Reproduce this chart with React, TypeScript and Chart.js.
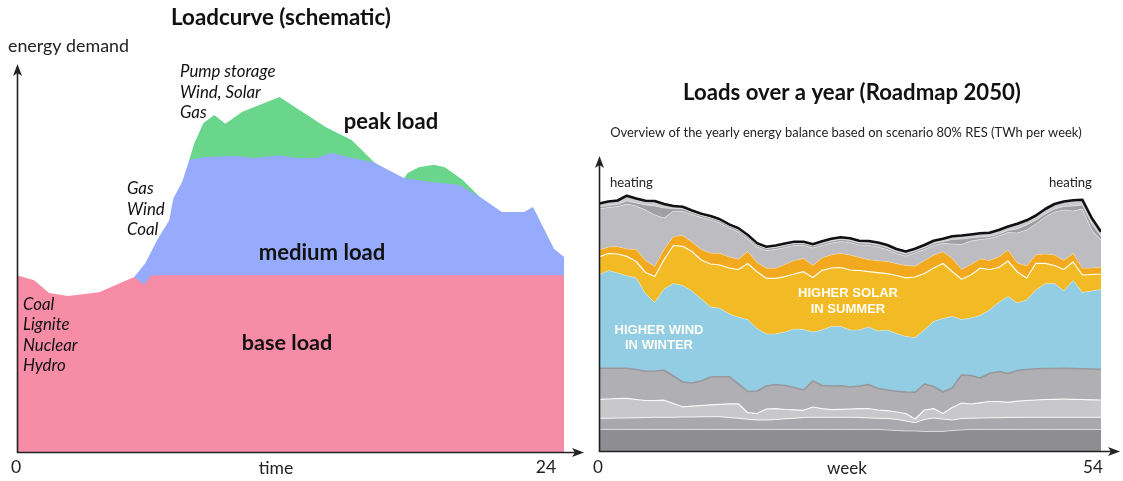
import React, { useEffect, useRef } from "react";
import { Chart, registerables } from "chart.js";

Chart.register(...registerables);

const FONT = "Lato, 'Open Sans', sans-serif";
const FONT_ARIAL = "'Liberation Sans', Arial, sans-serif";

// ---------------- Left chart: Loadcurve (schematic) ----------------
// x = hour of day, y = relative energy demand (0..100)
const BASE_HOURS = [0, 0.75, 1.41, 2.24, 3.6, 5.14, 5.58, 5.89, 24];
const BASE_LOAD = [45.7, 44.4, 41.1, 40.3, 41.3, 45.2, 43.2, 45.7, 45.7];

const MEDIUM_HOURS = [5.14, 5.63, 6.15, 6.68, 6.86, 7.25, 7.56, 8.31, 9.63, 10.42, 11.52, 12.26, 13.14, 13.8, 14.68, 15.65, 16.97, 18.11, 19.43, 20.4, 21.27, 22.24, 22.64, 23.56, 24];
const MEDIUM_LOAD = [45.2, 48.8, 54.8, 59.9, 65.6, 69.8, 75.5, 76.2, 76.5, 76.0, 76.7, 76.0, 76.0, 77.3, 76.0, 74.9, 70.8, 69.8, 69.0, 65.6, 62.0, 62.0, 63.3, 52.5, 50.4];

const PEAK_HOURS = [7.56, 7.78, 8.18, 8.66, 9.14, 9.89, 11.52, 13.54, 14.68, 15.74, 16.4, 16.97, 17.14, 17.63, 18.29, 18.77, 19.56, 20.4];
const PEAK_LOAD = [75.5, 79.8, 85.0, 87.1, 84.8, 87.9, 91.7, 84.0, 80.6, 74.5, 72.0, 70.6, 72.1, 73.6, 74.2, 73.6, 70.3, 65.4];

// ---------------- Right chart: Loads over a year ----------------
const WEEKS = [0, 1, 2, 3, 4, 5, 6, 7, 8, 9, 10, 11, 12, 13, 14, 15, 16, 17, 18, 19, 20, 21, 22, 23, 24, 25, 26, 27, 28, 29, 30, 31, 32, 33, 34, 35, 36, 37, 38, 39, 40, 41, 42, 43, 44, 45, 46, 47, 48, 49, 50, 51, 52, 53, 54];

// cumulative upper edge of each band (schematic units), from the bottom up
const BAND1_TOP = [21.5, 21.5, 21.5, 21.5, 21.5, 21.5, 21.5, 21.5, 21.5, 21.5, 21.5, 21.5, 21.5, 21.5, 21.5, 21.5, 21.5, 21.5, 21.5, 21.5, 21.5, 21.5, 21.5, 21.5, 21.5, 21.5, 21.5, 21.5, 21.5, 21.5, 21.5, 21, 20.5, 20, 20, 19.5, 19.5, 19.5, 20.5, 21, 21.5, 21.5, 21.5, 21.5, 21.5, 21.5, 21.5, 21.5, 21.5, 21.5, 21.5, 21.5, 21.5, 21.5, 21.5];
const BAND2_TOP = [32.7, 32.7, 33, 33, 33.2, 33.5, 33.7, 33.7, 33.7, 34, 34, 34.2, 34.3, 34.3, 33.5, 32.7, 31.7, 31, 31, 31.5, 32.2, 32.7, 33.5, 33.7, 33.7, 33.7, 33.7, 33.7, 33.5, 33, 32.7, 32.5, 31.7, 30, 28.3, 31.5, 33, 32, 31, 32.5, 32.7, 33, 33.2, 33.3, 33.5, 33.6, 33.7, 33.7, 33.7, 33.7, 33.7, 33.7, 33.7, 33.7, 33.7];
const BAND3_TOP = [51.7, 52, 52.5, 52.7, 51.5, 50.5, 50.5, 50.8, 47.5, 44.2, 44.8, 45.5, 46.2, 46.7, 47.2, 47.2, 38.3, 37.5, 42, 42.4, 41.5, 41.2, 40.7, 44, 42.3, 41.4, 41.7, 42, 42.4, 42.5, 41, 40.4, 39, 37.5, 32, 41, 42.4, 37.5, 43.5, 48, 47, 48.2, 49.5, 49.5, 48.7, 49.8, 50.5, 51, 51.5, 51.7, 52, 51.7, 51.5, 51.2, 51];
const BAND4_TOP = [82.7, 82.7, 82.7, 82.7, 81.5, 79.7, 80, 80.7, 75, 69, 68, 70, 74, 74.3, 74.3, 67, 59.5, 60, 65, 66.5, 65.5, 63.5, 61, 70, 65.5, 65, 65.3, 64, 65, 66.5, 62.5, 61, 59.7, 59, 58.7, 67, 64.5, 59, 63, 76, 75.5, 73, 77.5, 79.5, 77.5, 80.5, 81.5, 82.3, 82.5, 82.5, 82.7, 82.5, 82.2, 82, 81.7];
const WIND_TOP = [176, 180.5, 178, 175.2, 173, 157.5, 148.5, 162, 167.5, 165.5, 160, 152, 144, 142.7, 137, 133.7, 131.5, 122.5, 117, 117, 119, 122, 121.5, 119, 121, 124.5, 124.5, 121, 121, 124, 120, 121, 117.5, 114.5, 113.5, 121, 129.5, 132.5, 134.5, 131.5, 133, 135.5, 141, 148.5, 154.5, 148, 151, 161, 167.2, 167.5, 160, 170.5, 158.5, 160, 161.5];
const SOLAR_TOP = [194, 197.5, 197, 194.7, 189.5, 178.5, 174.5, 191.5, 205.5, 204.7, 199.5, 191, 187, 186, 183, 181.5, 187.5, 179.2, 172.7, 172.7, 174.3, 177, 179.3, 173.5, 180.7, 183, 183.5, 181, 180.5, 179.4, 178.4, 177.3, 175.5, 173.2, 174, 177.5, 183, 187.5, 179.5, 171.7, 176, 182.8, 181.5, 183.5, 190, 179, 173, 187.7, 187.7, 185.5, 181.5, 189.2, 176, 176.5, 177];
const SOLAR2_TOP = [200.5, 204, 204.3, 202, 201.5, 190.5, 184.5, 201.5, 214.5, 215.5, 209, 201.5, 197.7, 197.7, 194, 191.7, 199.5, 188.5, 182.7, 182.7, 186.5, 190.5, 192.5, 185.5, 193, 196.3, 197.5, 196, 193.5, 191.3, 190.3, 189.5, 187.3, 185.5, 184.7, 190.2, 195.7, 199.2, 192.5, 181.5, 186.5, 192, 190.5, 194, 201, 188, 185, 196.2, 197, 196, 190.5, 197.5, 182.7, 183, 183.7];
const BAND8_TOP = [242, 243.5, 244.5, 247, 245, 241, 236, 233, 240, 239.5, 236.5, 233.5, 231, 228, 223, 219, 212, 204, 200.5, 201.5, 203.5, 205.5, 205.5, 203, 205.5, 208, 209.5, 208.5, 206, 205.5, 204, 201.5, 197.5, 195, 198, 201.5, 205.5, 207.5, 207, 206.5, 210, 211.5, 212.5, 215, 218.5, 218, 221, 227, 234, 239, 241, 240, 242, 221, 211];
const BAND9_TOP = [244, 245.5, 246.5, 250, 248, 246, 245, 243, 242.5, 242, 238.5, 235.5, 233, 230, 225, 221, 214, 206, 202.5, 203.5, 205.5, 207.5, 207.5, 205, 207.5, 210, 211.5, 210.5, 208, 207.5, 206, 203.5, 199.5, 197, 200, 203.5, 207.5, 209.5, 211.5, 212, 213, 214, 214.5, 217, 220.5, 222, 226, 231, 237, 242, 244.5, 245, 246, 227, 215];
const TOTAL_LOAD = [247.5, 249.5, 250.5, 255.3, 252.5, 250.3, 250, 247, 245, 244.3, 240.5, 237.2, 235, 231.7, 226.5, 222.8, 216, 207.7, 204.3, 205.5, 207.5, 209.3, 209.3, 206.7, 209.7, 212.2, 213.7, 212.7, 210.2, 210, 208.5, 206, 202, 199.5, 202.2, 206, 210.2, 212.3, 214.8, 215.5, 216.5, 217.7, 218.2, 221, 224.5, 227.2, 230.7, 235.5, 242, 247, 249.5, 250.8, 251.2, 233, 219.3];

type Item = { text: string; x: number; y: number; align?: CanvasTextAlign };
type Group = { ref: string; width: number; weight: string; style: string; family: string; color: string; items: Item[] };

function fontStr(g: Group, size: number) {
  return `${g.style} ${g.weight} ${size}px ${g.family}`;
}

function drawGroups(ctx: CanvasRenderingContext2D, groups: Group[]) {
  for (const g of groups) {
    ctx.font = fontStr(g, 100);
    const w = ctx.measureText(g.ref).width;
    const size = (100 * g.width) / w;
    ctx.font = fontStr(g, size);
    ctx.fillStyle = g.color;
    ctx.textBaseline = "middle";
    for (const it of g.items) {
      ctx.textAlign = it.align || "left";
      ctx.fillText(it.text, it.x, it.y);
    }
  }
}

function arrowUp(ctx: CanvasRenderingContext2D, x: number, y: number) {
  ctx.beginPath();
  ctx.moveTo(x, y);
  ctx.lineTo(x - 4.5, y + 12);
  ctx.lineTo(x, y + 9);
  ctx.lineTo(x + 4.5, y + 12);
  ctx.closePath();
  ctx.fill();
}
function arrowRight(ctx: CanvasRenderingContext2D, x: number, y: number) {
  ctx.beginPath();
  ctx.moveTo(x, y);
  ctx.lineTo(x - 12, y - 4.5);
  ctx.lineTo(x - 9, y);
  ctx.lineTo(x - 12, y + 4.5);
  ctx.closePath();
  ctx.fill();
}

function pts(xs: number[], ys: number[]) {
  return xs.map((x, i) => ({ x, y: ys[i] }));
}

const leftDecor = {
  id: "leftDecor",
  afterDraw(chart: any) {
    const ctx: CanvasRenderingContext2D = chart.ctx;
    const a = chart.chartArea;
    ctx.save();
    ctx.strokeStyle = "#222";
    ctx.fillStyle = "#222";
    ctx.lineWidth = 1.6;
    ctx.beginPath();
    ctx.moveTo(a.left + 0.5, a.bottom + 1);
    ctx.lineTo(a.left + 0.5, 72);
    ctx.moveTo(a.left, a.bottom + 0.5);
    ctx.lineTo(575, a.bottom + 0.5);
    ctx.stroke();
    arrowUp(ctx, a.left + 0.5, 64);
    arrowRight(ctx, 584, a.bottom + 0.5);
    drawGroups(ctx, [
      { ref: "Loadcurve (schematic)", width: 220, weight: "bold", style: "normal", family: FONT, color: "#111", items: [{ text: "Loadcurve (schematic)", x: 281, y: 18, align: "center" }] },
      { ref: "energy demand", width: 121, weight: "normal", style: "normal", family: FONT, color: "#222", items: [{ text: "energy demand", x: 8, y: 46 }] },
      {
        ref: "Pump storage", width: 95.5, weight: "normal", style: "italic", family: FONT, color: "#111",
        items: [
          { text: "Pump storage", x: 180, y: 72 }, { text: "Wind, Solar", x: 180, y: 93 }, { text: "Gas", x: 180, y: 113 },
          { text: "Gas", x: 127, y: 189 }, { text: "Wind", x: 127, y: 210 }, { text: "Coal", x: 127, y: 230 },
          { text: "Coal", x: 23, y: 305 }, { text: "Lignite", x: 23, y: 325 }, { text: "Nuclear", x: 23, y: 346 }, { text: "Hydro", x: 23, y: 366 },
        ],
      },
      { ref: "peak load", width: 94.4, weight: "bold", style: "normal", family: FONT, color: "#111", items: [{ text: "peak load", x: 391, y: 122, align: "center" }] },
      { ref: "medium load", width: 126.7, weight: "bold", style: "normal", family: FONT, color: "#111", items: [{ text: "medium load", x: 322, y: 253, align: "center" }] },
      { ref: "base load", width: 90.7, weight: "bold", style: "normal", family: FONT, color: "#111", items: [{ text: "base load", x: 287, y: 343, align: "center" }] },
      {
        ref: "time", width: 34.5, weight: "normal", style: "normal", family: FONT, color: "#222",
        items: [{ text: "0", x: 16, y: 467, align: "center" }, { text: "time", x: 276, y: 468, align: "center" }, { text: "24", x: 546, y: 467, align: "center" }],
      },
    ]);
    ctx.restore();
  },
};

const rightDecor = {
  id: "rightDecor",
  afterDraw(chart: any) {
    const ctx: CanvasRenderingContext2D = chart.ctx;
    const a = chart.chartArea;
    ctx.save();
    ctx.strokeStyle = "#222";
    ctx.fillStyle = "#222";
    ctx.lineWidth = 1.6;
    ctx.beginPath();
    ctx.moveTo(a.left + 0.5, a.bottom + 1);
    ctx.lineTo(a.left + 0.5, 164);
    ctx.moveTo(a.left, a.bottom + 0.5);
    ctx.lineTo(521, a.bottom + 0.5);
    ctx.stroke();
    arrowUp(ctx, a.left + 0.5, 156);
    arrowRight(ctx, 530, a.bottom + 0.5);
    drawGroups(ctx, [
      { ref: "Loads over a year (Roadmap 2050)", width: 338, weight: "bold", style: "normal", family: FONT, color: "#111", items: [{ text: "Loads over a year (Roadmap 2050)", x: 262, y: 93, align: "center" }] },
      { ref: "Overview of the yearly energy balance based on scenario 80% RES (TWh per week)", width: 472, weight: "normal", style: "normal", family: FONT, color: "#222", items: [{ text: "Overview of the yearly energy balance based on scenario 80% RES (TWh per week)", x: 256, y: 133, align: "center" }] },
      { ref: "heating", width: 43, weight: "normal", style: "normal", family: FONT, color: "#222", items: [{ text: "heating", x: 20, y: 183 }, { text: "heating", x: 459, y: 183 }] },
      {
        ref: "week", width: 40, weight: "normal", style: "normal", family: FONT, color: "#222",
        items: [{ text: "0", x: 8, y: 467, align: "center" }, { text: "week", x: 257, y: 468, align: "center" }, { text: "54", x: 503, y: 467, align: "center" }],
      },
      {
        ref: "HIGHER SOLAR", width: 100, weight: "bold", style: "normal", family: FONT_ARIAL, color: "#fdfdf5",
        items: [
          { text: "HIGHER SOLAR", x: 258, y: 293, align: "center" }, { text: "IN SUMMER", x: 258, y: 309, align: "center" },
          { text: "HIGHER WIND", x: 69, y: 330, align: "center" }, { text: "IN WINTER", x: 69, y: 345, align: "center" },
        ],
      },
    ]);
    ctx.restore();
  },
};

function area(label: string, data: any[], bg: string, fill: any, border = "rgba(0,0,0,0)", bw = 0) {
  return {
    label, data, backgroundColor: bg, borderColor: border, borderWidth: bw, fill,
    pointRadius: 0, pointHoverRadius: 0, tension: 0, borderJoinStyle: "round" as const,
  };
}

export default function App() {
  const leftRef = useRef<HTMLCanvasElement>(null);
  const rightRef = useRef<HTMLCanvasElement>(null);

  useEffect(() => {
    const left = new Chart(leftRef.current!, {
      type: "line",
      data: {
        datasets: [
          area("base load", pts(BASE_HOURS, BASE_LOAD), "#f68ca5", "origin"),
          area("medium load", pts(MEDIUM_HOURS, MEDIUM_LOAD), "#97abfc", "origin"),
          area("peak load", pts(PEAK_HOURS, PEAK_LOAD), "#69d68c", "origin"),
        ] as any,
      },
      options: {
        responsive: false,
        animation: false,
        layout: { padding: { left: 17, right: 26, top: 65, bottom: 29 } },
        scales: {
          x: { type: "linear", min: 0, max: 24, display: false },
          y: { min: 0, max: 100, display: false },
        },
        plugins: { legend: { display: false }, tooltip: { enabled: false } },
      },
      plugins: [leftDecor],
    });

    const W = (ys: number[]) => pts(WEEKS, ys);
    const right = new Chart(rightRef.current!, {
      type: "line",
      data: {
        datasets: [
          area("band 1", W(BAND1_TOP), "#8e8e92", "origin", "rgba(255,255,255,0.55)", 1),
          area("band 2", W(BAND2_TOP), "#a9a9ad", "-1", "rgba(255,255,255,0.85)", 1),
          area("band 3", W(BAND3_TOP), "#c8c8cb", "-1", "rgba(255,255,255,0.9)", 1.2),
          area("band 4", W(BAND4_TOP), "#b0b0b4", "-1", "#98989c", 1.6),
          area("wind", W(WIND_TOP), "#92cde3", "-1", "rgba(255,255,255,0.35)", 0.8),
          area("solar", W(SOLAR_TOP), "#f2bb25", "-1", "rgba(255,255,255,0.95)", 1.2),
          area("solar 2", W(SOLAR2_TOP), "#f2a91d", "-1", "rgba(255,255,255,0.3)", 0.8),
          area("band 8", W(BAND8_TOP), "#bdbdc1", "-1", "rgba(255,255,255,0.5)", 0.8),
          area("band 9", W(BAND9_TOP), "#a0a0a4", "-1", "rgba(255,255,255,0.5)", 0.8),
          area("total", W(TOTAL_LOAD), "#cbcbce", "-1", "#111111", 2.6),
        ] as any,
      },
      options: {
        responsive: false,
        animation: false,
        layout: { padding: { left: 9, right: 22, top: 155, bottom: 30 } },
        scales: {
          x: { type: "linear", min: 0, max: 54, display: false },
          y: { min: 0, max: 296, display: false },
        },
        plugins: { legend: { display: false }, tooltip: { enabled: false } },
      },
      plugins: [rightDecor],
    });

    return () => {
      left.destroy();
      right.destroy();
    };
  }, []);

  return (
    <div style={{ position: "absolute", left: 0, top: 0, width: 1123, height: 481, background: "#ffffff" }}>
      <canvas ref={leftRef} width={590} height={481} style={{ position: "absolute", left: 0, top: 0 }} />
      <canvas ref={rightRef} width={533} height={481} style={{ position: "absolute", left: 590, top: 0 }} />
    </div>
  );
}
